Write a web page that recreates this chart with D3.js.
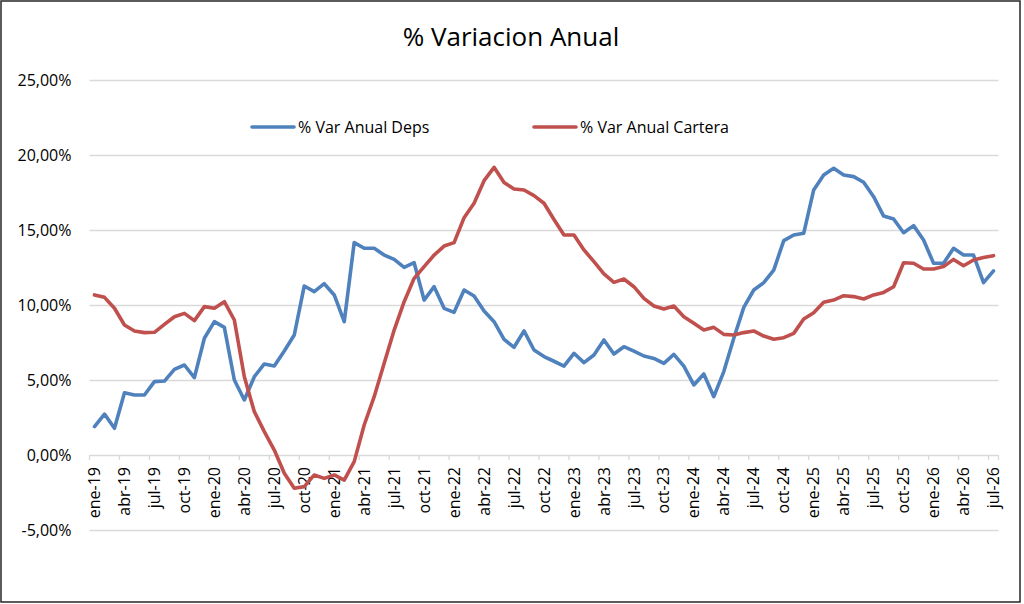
<!DOCTYPE html>
<html>
<head>
  <meta charset="utf-8">
  <title>% Variacion Anual</title>
  <script type="text/javascript" src="https://cdn.jsdelivr.net/npm/d3@7"></script>
  <style type="text/css">
    body { margin: 0; background: #fff; }
    text { font-family: "Open Sans", sans-serif; fill: #000; }
  </style>
</head>
<body>
<script type="text/javascript">

// chart size
var w = 1024;
var h = 604;

// categories: monthly from ene-19 to jul-26
var meses = ["ene", "feb", "mar", "abr", "may", "jun", "jul", "ago", "sep", "oct", "nov", "dic"];
var anios = ["19", "20", "21", "22", "23", "24", "25", "26"];
var mesesUltimoAnio = 7;

var categorias = [];
anios.forEach(function(a, j) {
  var n = (j == anios.length - 1) ? mesesUltimoAnio : 12;
  for (var m = 0; m < n; m++) {
    categorias.push(meses[m] + "-" + a);
  }
});

// series values (%)
var varDeps = [
  1.89, 2.73, 1.78, 4.15, 4.00, 4.00, 4.89, 4.93, 5.71, 6.00, 5.16, 7.78,
  8.89, 8.51, 5.00, 3.67, 5.22, 6.07, 5.93, 6.93, 8.00, 11.27, 10.89, 11.42,
  10.67, 8.89, 14.16, 13.78, 13.78, 13.33, 13.04, 12.51, 12.82, 10.33, 11.22, 9.78,
  9.51, 11.00, 10.60, 9.60, 8.89, 7.71, 7.18, 8.27, 7.00, 6.56, 6.25, 5.93,
  6.78, 6.16, 6.67, 7.67, 6.73, 7.22, 6.93, 6.60, 6.44, 6.11, 6.71, 5.93,
  4.67, 5.40, 3.89, 5.56, 7.78, 9.84, 11.00, 11.49, 12.33, 14.29, 14.67, 14.78,
  17.67, 18.67, 19.11, 18.67, 18.56, 18.18, 17.22, 15.93, 15.73, 14.82, 15.29, 14.33,
  12.78, 12.78, 13.78, 13.33, 13.33, 11.49, 12.27
];

var varCartera = [
  10.67, 10.51, 9.78, 8.67, 8.27, 8.16, 8.18, 8.71, 9.22, 9.44, 8.96, 9.89,
  9.78, 10.22, 9.00, 5.22, 2.89, 1.56, 0.33, -1.22, -2.22, -2.11, -1.33, -1.56,
  -1.33, -1.67, -0.44, 2.00, 3.89, 6.11, 8.33, 10.22, 11.78, 12.56, 13.33, 13.93,
  14.16, 15.82, 16.78, 18.29, 19.18, 18.16, 17.73, 17.67, 17.29, 16.78, 15.70, 14.67,
  14.67, 13.67, 12.89, 12.07, 11.51, 11.73, 11.22, 10.44, 9.93, 9.73, 9.93, 9.22,
  8.78, 8.33, 8.51, 8.04, 8.00, 8.16, 8.27, 7.93, 7.72, 7.82, 8.11, 9.07,
  9.49, 10.18, 10.33, 10.62, 10.56, 10.40, 10.67, 10.84, 11.22, 12.82, 12.78, 12.40,
  12.40, 12.56, 13.04, 12.62, 13.00, 13.16, 13.29
];

// y ticks
var yTicks = [-5, 0, 5, 10, 15, 20, 25];

var series = [
  { nombre: "% Var Anual Deps", valores: varDeps, color: "#4f81bd" },
  { nombre: "% Var Anual Cartera", valores: varCartera, color: "#c0504d" }
];

// scales
var xScale = d3.scaleBand()
               .domain(d3.range(categorias.length))
               .range([89.5, 998.5])
               .paddingInner(0)
               .paddingOuter(0);

var yScale = d3.scaleLinear()
               .domain([-5, 25])
               .range([530, 80]);

var bw = xScale.bandwidth();

function formato(v) {
  return v.toFixed(2).replace(".", ",") + "%";
}

var svg = d3.select("body")
  .append("svg")
  .attr("width", w)
  .attr("height", h);

svg.append("rect")
   .attr("x", 0)
   .attr("y", 0)
   .attr("width", w)
   .attr("height", h)
   .attr("fill", "#fff");

// outer border
svg.append("rect")
   .attr("x", 1)
   .attr("y", 1)
   .attr("width", 1019)
   .attr("height", 601)
   .attr("fill", "none")
   .attr("stroke", "#262626")
   .attr("stroke-width", 1.5);

// title
svg.append("text")
   .attr("x", 511)
   .attr("y", 46)
   .attr("text-anchor", "middle")
   .attr("font-size", "26px")
   .text("% Variacion Anual");

// gridlines + y labels
var yAxis = d3.axisLeft(yScale)
  .tickValues(yTicks)
  .tickSize(-(998.5 - 89.5))
  .tickPadding(18)
  .tickFormat(formato);

svg.append("g")
   .attr("transform", "translate(89.5,0)")
   .call(yAxis)
   .call(function(g) {
     g.select(".domain").remove();
     g.selectAll(".tick line").attr("stroke", "#d9d9d9").attr("stroke-width", 1.3);
     g.selectAll(".tick text")
      .attr("font-family", "Open Sans, sans-serif")
      .attr("font-size", "16px")
      .attr("fill", "#000");
   });

// x axis at 0%
var xTickVals = d3.range(0, categorias.length, 3);

var xAxis = d3.axisBottom(xScale)
  .tickValues(xTickVals)
  .tickSize(0)
  .tickFormat(function(i) { return categorias[i]; });

var gx = svg.append("g")
   .attr("transform", "translate(0," + yScale(0) + ")")
   .call(xAxis);

gx.select(".domain").remove();
gx.selectAll(".tick text")
  .attr("font-family", "Open Sans, sans-serif")
  .attr("font-size", "16px")
  .attr("fill", "#000")
  .attr("text-anchor", "end")
  .attr("dy", "0.35em")
  .attr("transform", "translate(0,12) rotate(-90)")
  .attr("x", 0)
  .attr("y", 0);

// tick marks on the category boundaries
var bordes = xTickVals.map(function(i) { return xScale(i); });
bordes.push(xScale.range()[1]);

svg.selectAll("line.xtick")
   .data(bordes)
   .enter()
   .append("line")
   .attr("class", "xtick")
   .attr("x1", function(d) { return d; })
   .attr("x2", function(d) { return d; })
   .attr("y1", yScale(0))
   .attr("y2", yScale(0) + 5)
   .attr("stroke", "#d9d9d9")
   .attr("stroke-width", 1.3);

// lines
var linea = d3.line()
  .x(function(d, i) { return xScale(i) + bw / 2; })
  .y(function(d) { return yScale(d); });

svg.selectAll("path.serie")
   .data(series)
   .enter()
   .append("path")
   .attr("class", "serie")
   .attr("d", function(d) { return linea(d.valores); })
   .attr("fill", "none")
   .attr("stroke", function(d) { return d.color; })
   .attr("stroke-width", 3.6)
   .attr("stroke-linejoin", "round")
   .attr("stroke-linecap", "round");

// legend
var leyendaX = [252, 534];

var leyenda = svg.selectAll("g.leyenda")
   .data(series)
   .enter()
   .append("g")
   .attr("class", "leyenda")
   .attr("transform", function(d, i) { return "translate(" + leyendaX[i] + ",127)"; });

leyenda.append("line")
   .attr("x1", 0)
   .attr("x2", 42)
   .attr("y1", 0)
   .attr("y2", 0)
   .attr("stroke", function(d) { return d.color; })
   .attr("stroke-width", 3.6)
   .attr("stroke-linecap", "round");

leyenda.append("text")
   .attr("x", 46)
   .attr("y", 0)
   .attr("dy", "0.35em")
   .attr("font-size", "16px")
   .text(function(d) { return d.nombre; });

</script>
</body>
</html>
